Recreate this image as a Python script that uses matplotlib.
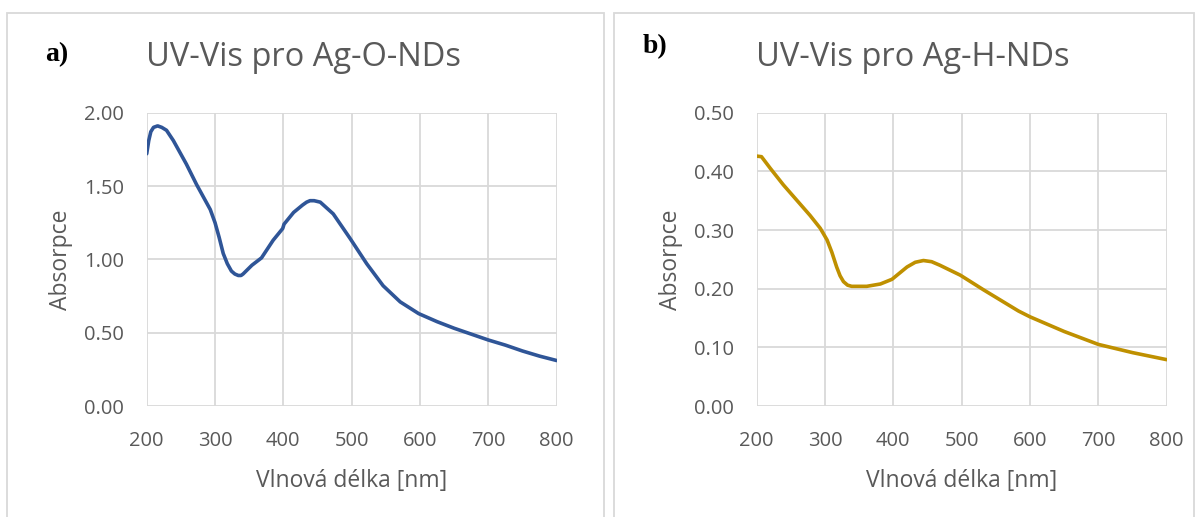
import matplotlib.pyplot as plt
from matplotlib.patches import Rectangle

# Ag-O-NDs (panel a)
wl_o = [200, 203, 206, 210, 216, 222, 229, 239, 258, 273, 293, 300, 306, 312, 318, 324, 329,
        334, 338, 341, 354, 368, 385, 399, 401, 415, 428, 434, 439, 445, 454, 473, 498, 522,
        546, 571, 598, 625, 650, 675, 700, 725, 750, 775, 800]
abs_o = [1.72, 1.81, 1.87, 1.90, 1.91, 1.90, 1.88, 1.81, 1.65, 1.51, 1.34, 1.25, 1.15, 1.04,
         0.97, 0.92, 0.90, 0.89, 0.89, 0.90, 0.96, 1.01, 1.13, 1.21, 1.24, 1.32, 1.37, 1.39,
         1.40, 1.40, 1.39, 1.31, 1.14, 0.97, 0.82, 0.71, 0.63, 0.575, 0.53, 0.49, 0.45, 0.415,
         0.375, 0.34, 0.31]

# Ag-H-NDs (panel b)
wl_h = [200, 207, 220, 239, 263, 278, 293, 303, 310, 317, 322, 327, 333, 339, 361, 381, 398,
        420, 432, 444, 456, 468, 498, 532, 583, 600, 650, 700, 750, 800]
abs_h = [0.426, 0.425, 0.405, 0.377, 0.345, 0.325, 0.303, 0.283, 0.262, 0.237, 0.222, 0.212,
         0.206, 0.204, 0.204, 0.208, 0.216, 0.237, 0.245, 0.248, 0.246, 0.240, 0.223, 0.198,
         0.162, 0.152, 0.127, 0.105, 0.091, 0.079]

x_ticks = [200, 300, 400, 500, 600, 700, 800]
y_ticks_o = [0.0, 0.5, 1.0, 1.5, 2.0]
y_ticks_h = [0.0, 0.1, 0.2, 0.3, 0.4, 0.5]

W, H = 1202, 517
fig = plt.figure(figsize=(W / 100, H / 100), dpi=100)
plt.rcParams['font.family'] = ['Open Sans', 'DejaVu Sans']

txt = '#595959'
grid = '#d9d9d9'

# Rahmen der beiden Diagramme
fig.patches.append(Rectangle((7 / W, -0.05), 597 / W, 1.05 - 13 / H, transform=fig.transFigure,
                             fill=False, edgecolor=grid, linewidth=1.3))
fig.patches.append(Rectangle((614 / W, -0.05), 580 / W, 1.05 - 13 / H, transform=fig.transFigure,
                             fill=False, edgecolor=grid, linewidth=1.3))


def make_panel(x0, wl, ab, yticks, color, title, letter, lx, ly, tx):
    ax = fig.add_axes([x0 / W, 1 - 406 / H, 410 / W, (406 - 112.7) / H])
    ax.plot(wl, ab, color=color, linewidth=2.6, solid_capstyle='round', solid_joinstyle='round')
    ax.set_xlim(200, 800)
    ax.set_ylim(yticks[0], yticks[-1])
    ax.set_xticks(x_ticks)
    ax.set_yticks(yticks)
    ax.set_yticklabels(['%.2f' % v for v in yticks])
    ax.grid(True, color=grid, linewidth=1.3)
    ax.set_axisbelow(True)
    for s in ax.spines.values():
        s.set_visible(False)
    ax.tick_params(length=0, labelsize=14.5, labelcolor=txt)
    ax.tick_params(axis='x', pad=18)
    ax.tick_params(axis='y', pad=16.5)
    ax.set_xlabel('Vlnová délka [nm]', fontsize=16.5, color=txt, labelpad=13)
    ax.set_ylabel('Absorpce', fontsize=16.5, color=txt, labelpad=8)
    fig.text(tx / W, 1 - 57 / H, title, fontsize=23.5, color=txt, ha='left', va='center')
    fig.text(lx / W, 1 - ly / H, letter, fontsize=20, fontweight='bold',
             family='Liberation Serif', ha='left', va='center')
    return ax


make_panel(146.7, wl_o, abs_o, y_ticks_o, '#2f5597', 'UV-Vis pro Ag-O-NDs', 'a)', 45, 55, 146)
make_panel(756.7, wl_h, abs_h, y_ticks_h, '#bf9000', 'UV-Vis pro Ag-H-NDs', 'b)', 643, 47, 756)

fig.savefig('out.png', dpi=100)
